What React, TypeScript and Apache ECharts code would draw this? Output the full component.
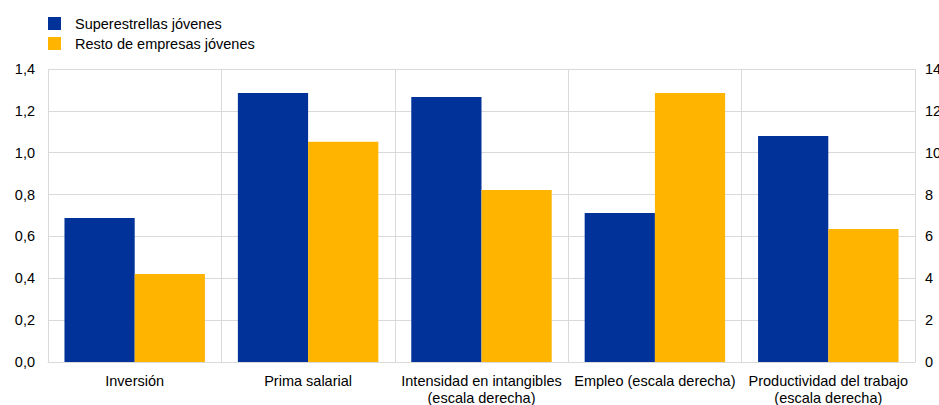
import React, { useEffect, useRef } from "react";
import * as echarts from "echarts";

const categories = [
  "Inversión",
  "Prima salarial",
  "Intensidad en intangibles\n(escala derecha)",
  "Empleo (escala derecha)",
  "Productividad del trabajo\n(escala derecha)",
];
const seriesNames = ["Superestrellas jóvenes", "Resto de empresas jóvenes"];
// left scale (first two categories)
const superLeft = [0.688, 1.285, null, null, null];
const restoLeft = [0.42, 1.052, null, null, null];
// right scale (last three categories)
const superRight = [null, null, 12.66, 7.12, 10.8];
const restoRight = [null, null, 8.22, 12.85, 6.35];

const BLUE = "#003299";
const ORANGE = "#FFB400";
const GRID = "#d9d9d9";
const FONT = "Liberation Sans";
const FS = 14.5;

export default function App() {
  const ref = useRef<HTMLDivElement>(null);
  useEffect(() => {
    document.body.style.margin = "0";
    document.body.style.overflow = "hidden";
    const chart = echarts.init(ref.current!, undefined, { renderer: "svg" });
    const barCommon = {
      type: "bar",
      barGap: "0%",
      barCategoryGap: "19%",
    };
    chart.setOption({
      animation: false,
      textStyle: { fontFamily: FONT },
      legend: {
        left: 43,
        top: 11,
        orient: "vertical",
        itemWidth: 13,
        itemHeight: 13,
        itemGap: 5,
        icon: "rect",
        data: seriesNames,
        textStyle: {
          fontFamily: FONT,
          fontSize: FS,
          color: "#000",
          padding: [0, 0, 0, 9],
        },
      },
      grid: {
        left: 48,
        right: 24,
        top: 69,
        bottom: 43,
        containLabel: false,
        outerBoundsMode: "none",
      },
      xAxis: [
        {
          type: "category",
          data: categories,
          axisTick: { show: false },
          axisLine: { show: true, lineStyle: { color: GRID, width: 1 } },
          splitLine: { show: true, interval: 0, lineStyle: { color: GRID, width: 1 } },
          axisLabel: {
            interval: 0,
            color: "#000",
            fontFamily: FONT,
            fontSize: FS,
            lineHeight: 17,
            margin: 10,
          },
        },
        {
          type: "category",
          data: categories,
          show: false,
          position: "bottom",
        },
      ],
      yAxis: [
        {
          type: "value",
          min: 0,
          max: 1.4,
          interval: 0.2,
          axisLine: { show: false },
          axisTick: { show: false },
          splitLine: { lineStyle: { color: GRID, width: 1 } },
          axisLabel: {
            color: "#000",
            fontFamily: FONT,
            fontSize: FS,
            margin: 13,
            formatter: (v: number) => v.toFixed(1).replace(".", ","),
          },
        },
        {
          type: "value",
          min: 0,
          max: 14,
          interval: 2,
          axisLine: { show: false },
          axisTick: { show: false },
          splitLine: { show: false },
          axisLabel: {
            color: "#000",
            fontFamily: FONT,
            fontSize: FS,
            margin: 10,
          },
        },
      ],
      series: [
        { ...barCommon, name: seriesNames[0], xAxisIndex: 0, yAxisIndex: 0, data: superLeft, itemStyle: { color: BLUE } },
        { ...barCommon, name: seriesNames[1], xAxisIndex: 0, yAxisIndex: 0, data: restoLeft, itemStyle: { color: ORANGE } },
        { ...barCommon, name: seriesNames[0], xAxisIndex: 1, yAxisIndex: 1, data: superRight, itemStyle: { color: BLUE } },
        { ...barCommon, name: seriesNames[1], xAxisIndex: 1, yAxisIndex: 1, data: restoRight, itemStyle: { color: ORANGE } },
      ],
    });
    return () => chart.dispose();
  }, []);
  return <div ref={ref} style={{ width: 939, height: 405 }} />;
}
